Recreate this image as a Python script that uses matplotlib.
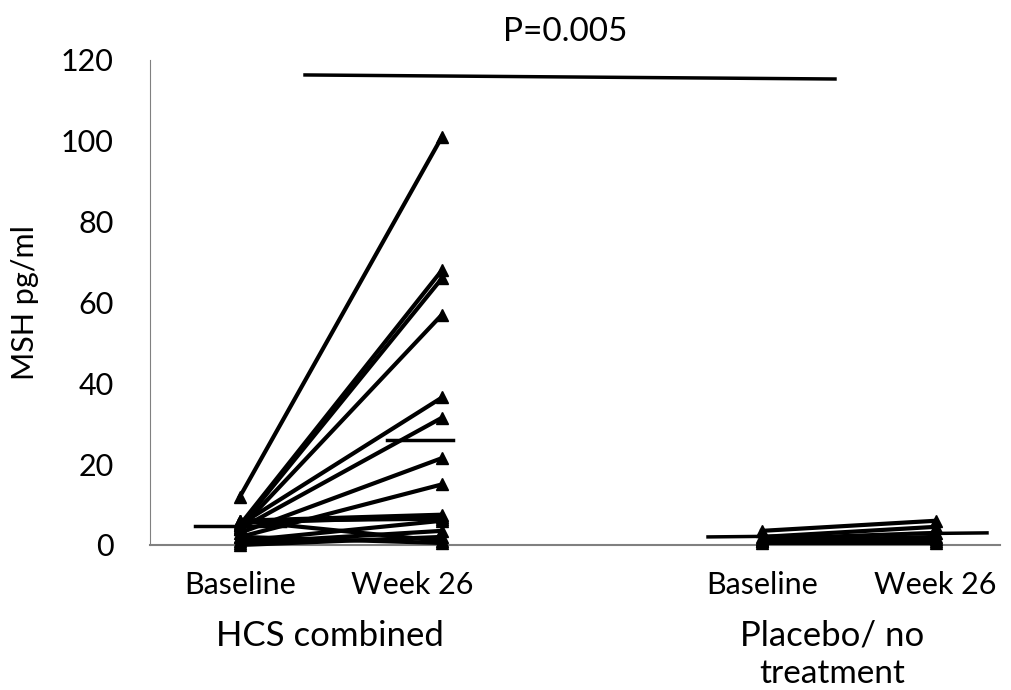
import numpy as np
import matplotlib
matplotlib.use("Agg")
import matplotlib.pyplot as plt

plt.rcParams["font.family"] = ["Lato", "DejaVu Sans"]

# HCS combined: baseline -> week 26 (pg/ml)
hcs_base = [12, 5, 4.5, 4, 5, 4, 3, 2, 6, 5.5, 6, 1, 6, 0.5, 2, 0]
hcs_wk26 = [101, 68, 66, 57, 36.5, 31.5, 21.5, 15, 7.5, 7, 6.5, 6, 1, 3.5, 0.5, 2]

# Placebo / no treatment
plc_base = [3.5, 2, 1.5, 1, 1, 0.5, 1]
plc_wk26 = [6, 4.5, 3, 1.5, 1, 0.5, 2]

# median bars
hcs_med = [4.7, 26]
plc_med = [2, 3]
bracket = [116.3, 115.3]

yticks = [0, 20, 40, 60, 80, 100, 120]

# x layout (pixel-like units)
x_pos = [240, 442, 762, 936]

fig = plt.figure(figsize=(10.12, 6.9), dpi=100)
ax = fig.add_axes([150 / 1012, 1 - 545 / 690, 850 / 1012, 485 / 690])
ax.set_xlim(150, 1000)
ax.set_ylim(0, 120)

for b, w in zip(hcs_base, hcs_wk26):
    ax.plot([x_pos[0], x_pos[1]], [b, w], color="black", lw=3,
            marker="^", ms=9, clip_on=False, zorder=3)
for b, w in zip(plc_base, plc_wk26):
    ax.plot([x_pos[2], x_pos[3]], [b, w], color="black", lw=3,
            marker="^", ms=9, clip_on=False, zorder=3)

ax.plot([195, 285], [hcs_med[0], hcs_med[0]], color="black", lw=2.5)
ax.plot([387, 453], [hcs_med[1], hcs_med[1]], color="black", lw=2.5)
ax.plot([708, 790], [plc_med[0], plc_med[0] + 0.2], color="black", lw=2.5)
ax.plot([910, 987], [plc_med[1] - 0.2, plc_med[1]], color="black", lw=2.5)
ax.plot([305, 835], bracket, color="black", lw=2.5, clip_on=False)

ax.text(565, 127, "P=0.005", ha="center", va="center", fontsize=24)

for s in ["top", "right"]:
    ax.spines[s].set_visible(False)
ax.spines["left"].set_color("#808080")
ax.spines["bottom"].set_color("#808080")
ax.spines["bottom"].set_linewidth(1.5)
ax.set_yticks(yticks)
ax.tick_params(axis="y", length=0, labelsize=22, pad=26)
ax.set_xticks([])
ax.set_ylabel("MSH pg/ml", fontsize=22, labelpad=16)

lab_x = [240, 412, 762, 935]
for x, t in zip(lab_x, ["Baseline", "Week 26", "Baseline", "Week 26"]):
    ax.text(x, -10, t, ha="center", va="center", fontsize=22)
ax.text(330, -22.5, "HCS combined", ha="center", va="center", fontsize=25)
ax.text(832, -22.5, "Placebo/ no", ha="center", va="center", fontsize=25)
ax.text(832, -31.8, "treatment", ha="center", va="center", fontsize=24)

fig.savefig("out.png", dpi=100)
